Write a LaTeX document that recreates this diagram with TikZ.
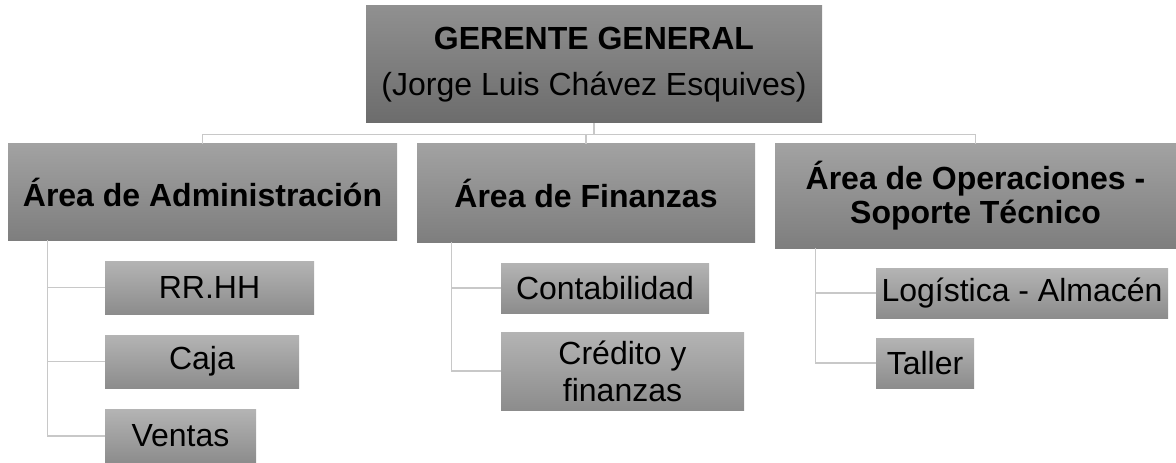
\documentclass[tikz,border=0pt]{standalone}
\usepackage{fontspec}
\setmainfont{Liberation Sans}
\usetikzlibrary{calc}
\definecolor{linegray}{HTML}{C8C8C8}
\definecolor{topA}{HTML}{909090}
\definecolor{topB}{HTML}{6C6C6C}
\definecolor{oneA}{HTML}{A2A2A2}
\definecolor{oneB}{HTML}{7E7E7E}
\definecolor{twoA}{HTML}{B4B4B4}
\definecolor{twoB}{HTML}{8C8C8C}
\begin{document}
\begin{tikzpicture}[x=0.75pt,y=-0.75pt,
  conn/.style={draw=linegray, line width=1.1pt},
  boxbase/.style={rectangle, inner sep=0pt, align=center, text=black},
  lvlzero/.style={boxbase, top color=topA, bottom color=topB,
     font=\fontsize{24}{34}\selectfont},
  lvlone/.style={boxbase, top color=oneA, bottom color=oneB,
     font=\bfseries\fontsize{24}{25.5}\selectfont},
  lvltwo/.style={boxbase, top color=twoA, bottom color=twoB,
     font=\fontsize{24}{27.75}\selectfont},
  sz/.style 2 args={minimum width=#1*0.75pt, minimum height=#2*0.75pt}
]
\useasboundingbox (0,0) rectangle (1176,463);

% top
\node[lvlzero, sz={456}{117}] (top) at (594,64.5)
  {\textbf{GERENTE GENERAL}\\(Jorge Luis Chávez Esquives)};

% level one
\node[lvlone, sz={389}{96}] (adm) at (202.5,192) {Área de Administración};
\node[lvlone, sz={338}{98}] (fin) at (586,193) {Área de Finanzas};
\node[lvlone, sz={401}{104}] (ops) at (975.5,196)
  {Área de Operaciones -\\Soporte Técnico};

% level two
\node[lvltwo, sz={209}{53}] (rrhh) at (209.5,287.5) {RR.HH};
\node[lvltwo, sz={194}{53}] (caja) at (202,361.5) {Caja};
\node[lvltwo, sz={151}{54}] (ventas) at (180.5,436) {Ventas};
\node[lvltwo, sz={208}{50}] (conta) at (605,288) {Contabilidad};
\node[lvltwo, sz={243}{78}] (cred) at (622.5,371) {Crédito y\\finanzas};
\node[lvltwo, sz={292}{50}] (log) at (1022,293) {Logística - Almacén};
\node[lvltwo, sz={98}{50}] (taller) at (925,363) {Taller};

% connectors
\coordinate (bus) at ($(top.south)+(0,11)$);
\draw[conn] (top.south) -- (bus);
\draw[conn] (adm.north) |- (bus) -| (ops.north);
\draw[conn] (fin.north) -- (fin.north |- bus);

\coordinate (admT) at ($(adm.south west)+(40,0)$);
\draw[conn] (admT) |- (rrhh.west);
\draw[conn] (admT) |- (caja.west);
\draw[conn] (admT) |- (ventas.west);

\coordinate (finT) at ($(fin.south west)+(35,0)$);
\draw[conn] (finT) |- (conta.west);
\draw[conn] (finT) |- (cred.west);

\coordinate (opsT) at ($(ops.south west)+(41,0)$);
\draw[conn] (opsT) |- (log.west);
\draw[conn] (opsT) |- (taller.west);
\end{tikzpicture}
\end{document}
